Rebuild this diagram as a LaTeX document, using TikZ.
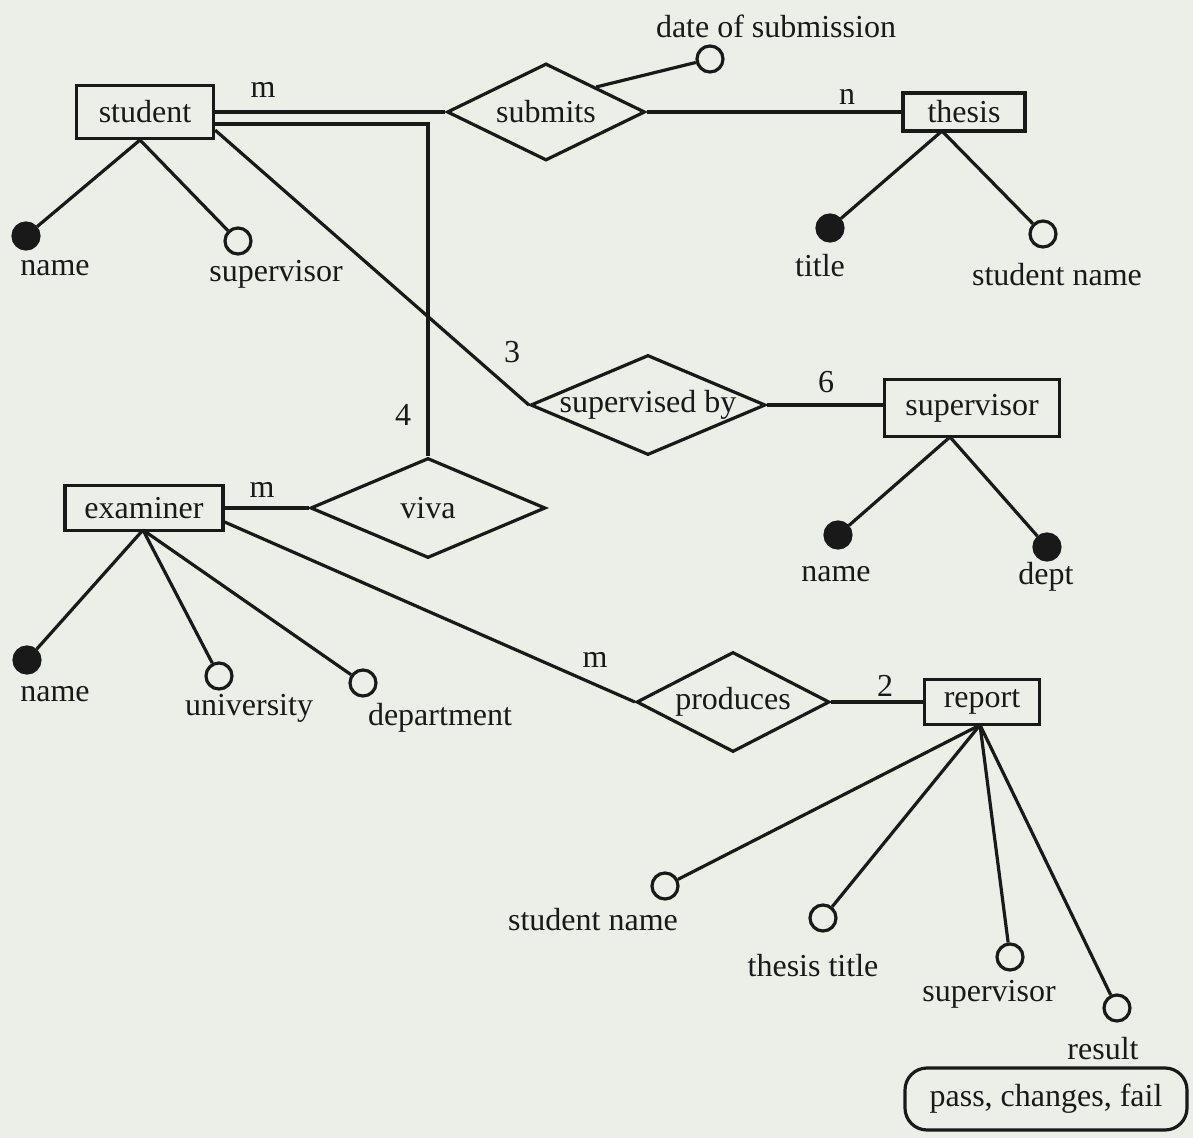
\documentclass[tikz,border=0pt]{standalone}
\usepackage{fontspec}
\setmainfont{Liberation Serif}
\usetikzlibrary{shapes.geometric}
\definecolor{paper}{RGB}{236,238,232}
\definecolor{ink}{RGB}{25,25,25}
\begin{document}
\begin{tikzpicture}[x=0.5pt,y=-0.5pt,
  every node/.style={font=\fontsize{16pt}{19pt}\selectfont, text=ink},
  ent/.style={draw=ink, line width=1.6pt, rectangle, inner sep=0pt},
  rel/.style={draw=ink, line width=1.6pt, diamond, inner sep=0pt},
  att/.style={draw=ink, line width=1.6pt, ellipse, minimum width=13pt, minimum height=13pt, inner sep=0pt, fill=paper},
  keyatt/.style={att, fill=ink},
  lab/.style={inner sep=0pt},
  conn/.style={draw=ink, line width=1.6pt},
  dom/.style={draw=ink, line width=1.6pt, rounded corners=11pt, inner sep=0pt, minimum width=141pt, minimum height=31pt}]
\fill[paper] (0,0) rectangle (1193,1138);
\useasboundingbox (0,0) rectangle (1193,1138);

% entities
\node[ent, minimum width=68.5pt, minimum height=26.5pt] (student) at (145,112) {student};
\node[ent, minimum width=61pt, minimum height=19pt] (thesis) at (964,112) {thesis};
\node[ent, minimum width=87.5pt, minimum height=28.5pt] (supervisor) at (972,408) {supervisor};
\node[ent, minimum width=79pt, minimum height=22.5pt] (examiner) at (144,508) {examiner};
\node[ent, minimum width=57.5pt, minimum height=22.5pt] (report) at (982,702) {report};

% relationships
\node[rel, minimum width=99pt, minimum height=48.5pt] (submits) at (546,112) {\makebox[0pt]{submits}};
\node[rel, minimum width=117.5pt, minimum height=50pt] (supby) at (648,405) {\makebox[0pt]{supervised by}};
\node[rel, minimum width=117.5pt, minimum height=50pt] (viva) at (428,508) {\makebox[0pt]{viva}};
\node[rel, minimum width=96.5pt, minimum height=50pt] (produces) at (733,702) {\makebox[0pt]{produces}};

% relationship connectors
\draw[conn] (student.east) -- (submits.west);
\draw[conn] (submits.east) -- (thesis.west);
\draw[conn] ([yshift=-6pt]student.east) -| (viva.north);
\draw[conn] ([yshift=5pt]student.south east) -- (supby.west);
\draw[conn] (supby.east) -- (supby.east -| supervisor.west);
\draw[conn] (examiner.east) -- (viva.west);
\draw[conn] ([yshift=-7pt]examiner.east) -- (produces.west);
\draw[conn] (produces.east) -- (report.west);

% cardinalities
\node[lab] (c1) at (263,90) {m};
\node[lab] (c2) at (847,97) {n};
\node[lab] (c3) at (512,352) {3};
\node[lab] (c4) at (403,415) {4};
\node[lab] (c5) at (826,382) {6};
\node[lab] (c6) at (262,490) {m};
\node[lab] (c7) at (595,660) {m};
\node[lab] (c8) at (885,686) {2};

% date of submission
\node[att] (date) at (710,59) {};
\node[lab] (datel) at (776,26) {date of submission};
\draw[conn] (submits.north east) -- (date);

% student attributes
\coordinate (stub) at (140,140);
\node[keyatt] (sname) at (26,236) {};
\node[lab] (snamel) at (55,268) {name};
\node[att] (ssup) at (238,241) {};
\node[lab] (ssupl) at (276,274) {supervisor};
\draw[conn] (stub) -- (sname);
\draw[conn] (stub) -- (ssup);

% thesis attributes
\coordinate (thb) at (942,131);
\node[keyatt] (ttitle) at (830,228) {};
\node[lab] (ttitlel) at (820,266) {title};
\node[att] (tsname) at (1043,234) {};
\node[lab] (tsnamel) at (1057,275) {student name};
\draw[conn] (thb) -- (ttitle);
\draw[conn] (thb) -- (tsname);

% supervisor attributes
\coordinate (spb) at (950,437);
\node[keyatt] (pname) at (838,535) {};
\node[lab] (pnamel) at (836,574) {name};
\node[keyatt] (pdept) at (1047,547) {};
\node[lab] (pdeptl) at (1046,577) {dept};
\draw[conn] (spb) -- (pname);
\draw[conn] (spb) -- (pdept);

% examiner attributes
\coordinate (exb) at (143,530);
\node[keyatt] (ename) at (27,660) {};
\node[lab] (enamel) at (55,694) {name};
\node[att] (euni) at (219,676) {};
\node[lab] (eunil) at (249,708) {university};
\node[att] (edept) at (363,683) {};
\node[lab] (edeptl) at (440,718) {department};
\draw[conn] (exb) -- (ename);
\draw[conn] (exb) -- (euni);
\draw[conn] (exb) -- (edept);

% report attributes
\coordinate (rpb) at (980,725);
\node[att] (rsname) at (665,886) {};
\node[lab] (rsnamel) at (593,920) {student name};
\node[att] (rtitle) at (823,918) {};
\node[lab] (rtitlel) at (813,966) {thesis title};
\node[att] (rsup) at (1010,957) {};
\node[lab] (rsupl) at (989,994) {supervisor};
\node[att] (rres) at (1117,1008) {};
\node[lab] (rresl) at (1103,1049) {result};
\draw[conn] (rpb) -- (rsname);
\draw[conn] (rpb) -- (rtitle);
\draw[conn] (rpb) -- (rsup);
\draw[conn] (rpb) -- (rres);

\node[dom] (resdom) at (1046,1099) {pass, changes, fail};
\end{tikzpicture}
\end{document}
